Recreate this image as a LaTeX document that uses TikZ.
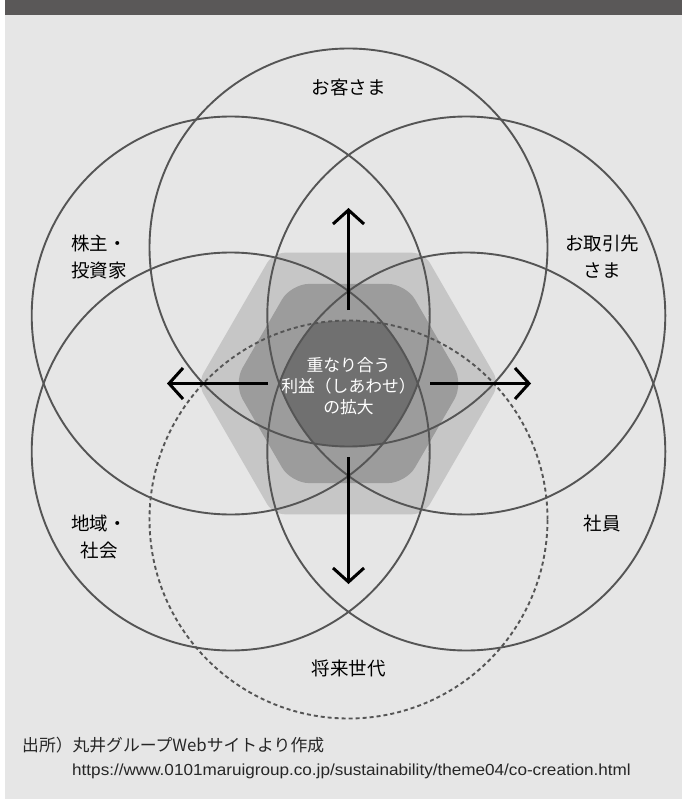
\documentclass[tikz,border=0pt]{standalone}
\usepackage{fontspec}
\setmainfont{Noto Sans CJK JP}
\newfontfamily\urlfont[FakeStretch=1.07]{Liberation Sans}
\usetikzlibrary{arrows.meta}
\definecolor{bgcol}{HTML}{E6E6E6}
\definecolor{barcol}{HTML}{5A5858}
\definecolor{ringcol}{HTML}{555555}
\definecolor{hexouter}{HTML}{C6C6C6}
\definecolor{hexinner}{HTML}{9C9C9C}
\definecolor{corecol}{HTML}{707070}
\tikzset{
  ring/.style={draw=ringcol, line width=1.9pt},
  dotring/.style={draw=ringcol, line width=1.9pt, dash pattern=on 4pt off 3pt},
  growarrow/.style={draw=black, line width=3pt, -{Straight Barb[length=14pt,width=31pt]}},
  lbl/.style={font=\fontsize{18.5}{27}\selectfont, align=center, text=black, inner sep=0pt},
  corelbl/.style={font=\fontsize{16.8}{21}\selectfont, align=center, text=white, inner sep=0pt},
  srclbl/.style={font=\fontsize{16.8}{18}\selectfont, anchor=west, text=black!85, inner sep=0pt},
}
\begin{document}
\begin{tikzpicture}[x=1pt,y=-1pt]
\useasboundingbox (0,0) rectangle (682,799);
\fill[white] (0,0) rectangle (682,799);
\fill[bgcol] (4.5,0) rectangle (682,799);
\fill[barcol] (4.5,0) rectangle (682,15);

% circle centres
\coordinate (H) at (348.5,383.5);
\coordinate (cT) at (348.5,247.5);
\coordinate (cB) at (348.5,519.5);
\coordinate (cUL) at (230.7,315.5);
\coordinate (cLL) at (230.7,451.5);
\coordinate (cUR) at (466.3,315.5);
\coordinate (cLR) at (466.3,451.5);

% hexagons
\fill[hexouter, rounded corners=12pt] (499.5,383.5) -- (424,252.7) -- (273,252.7) -- (197.5,383.5) -- (273,514.3) -- (424,514.3) -- cycle;
\fill[hexinner, rounded corners=18pt] (463.5,383.5) -- (406,283.9) -- (291,283.9) -- (233.5,383.5) -- (291,483.1) -- (406,483.1) -- cycle;

% core: intersection of all six circles
\begin{scope}
\clip (cT) circle[radius=199pt];
\clip (cB) circle[radius=199pt];
\clip (cUL) circle[radius=199pt];
\clip (cLL) circle[radius=199pt];
\clip (cUR) circle[radius=199pt];
\clip (cLR) circle[radius=199pt];
\fill[corecol] (100,100) rectangle (600,700);
\end{scope}

% circles
\draw[ring] (cT) circle[radius=199pt];
\draw[ring] (cUL) circle[radius=199pt];
\draw[ring] (cLL) circle[radius=199pt];
\draw[ring] (cUR) circle[radius=199pt];
\draw[ring] (cLR) circle[radius=199pt];
\draw[dotring] (cB) circle[radius=199pt];

% arrows
\coordinate (upS) at (348.5,310);
\coordinate (upE) at (348.5,208);
\coordinate (dnS) at (348.5,457);
\coordinate (dnE) at (348.5,584);
\coordinate (lfS) at (268,383.5);
\coordinate (lfE) at (167,383.5);
\coordinate (rtS) at (430,383.5);
\coordinate (rtE) at (531,383.5);
\draw[growarrow] (upS) -- (upE);
\draw[growarrow] (dnS) -- (dnE);
\draw[growarrow] (lfS) -- (lfE);
\draw[growarrow] (rtS) -- (rtE);

% labels
\node[lbl] (customers) at (348.5,87) {お客さま};
\node[lbl] (shareholders) at (99,257) {株主・\\投資家};
\node[lbl] (partners) at (602,257) {お取引先\\さま};
\node[lbl] (community) at (99,537) {地域・\\社会};
\node[lbl] (employees) at (602,523) {社員};
\node[lbl] (future) at (348.5,668) {将来世代};
\node[corelbl] (core) at (348.5,386) {重なり合う\\利益（しあわせ）\\の拡大};

% source
\node[srclbl] (src) at (22,745) {出所）丸井グループWebサイトより作成};
\node[srclbl, font=\urlfont\fontsize{16}{18}\selectfont] (url) at (72,771) {https://www.0101maruigroup.co.jp/sustainability/theme04/co-creation.html};
\end{tikzpicture}
\end{document}
